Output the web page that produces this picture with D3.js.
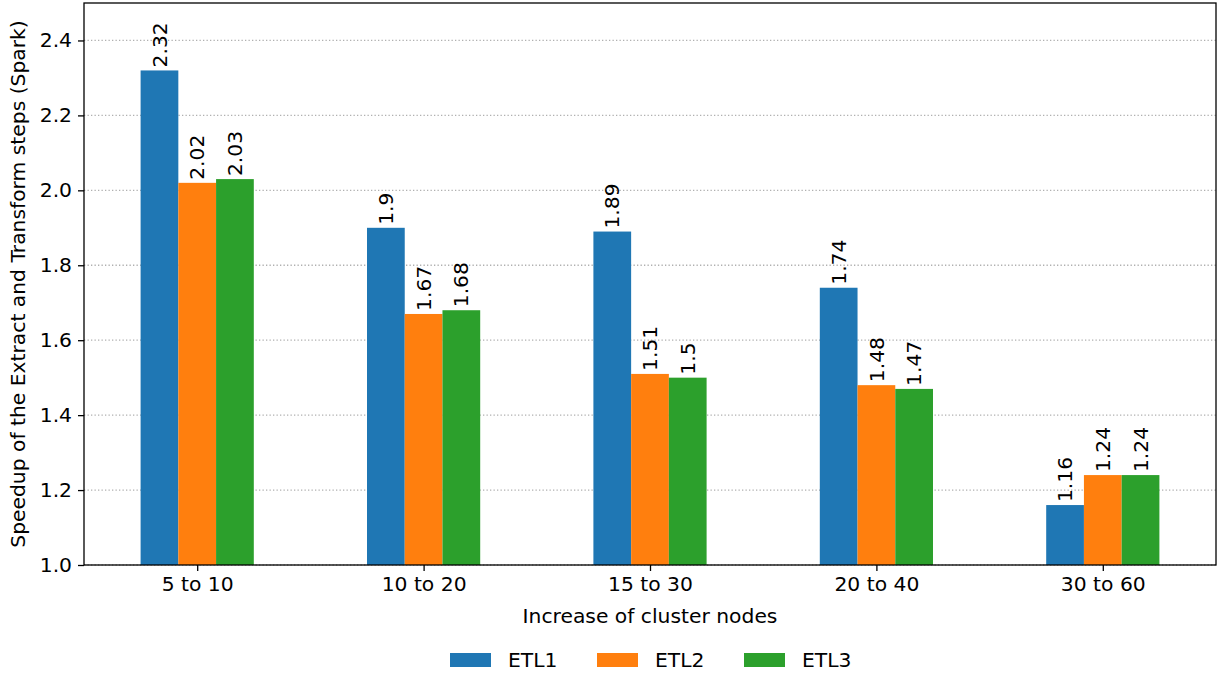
<!DOCTYPE html>
<html>
<head>
<meta charset="utf-8">
<script src="https://cdn.jsdelivr.net/npm/d3@7"></script>
<style>
  html, body { margin: 0; padding: 0; background: #fff; }
  svg { display: block; font-family: "DejaVu Sans", sans-serif; }
</style>
</head>
<body>
<svg id="chart" width="1218" height="673"></svg>
<script>
// Speedup per cluster-size increase, three ETL pipelines
const categories = ["5 to 10", "10 to 20", "15 to 30", "20 to 40", "30 to 60"];
const seriesNames = ["ETL1", "ETL2", "ETL3"];
const etl1 = [2.32, 1.9, 1.89, 1.74, 1.16];
const etl2 = [2.02, 1.67, 1.51, 1.48, 1.24];
const etl3 = [2.03, 1.68, 1.5, 1.47, 1.24];
const yTicks = [1.0, 1.2, 1.4, 1.6, 1.8, 2.0, 2.2, 2.4];
const colors = ["#1f77b4", "#ff7f0e", "#2ca02c"];

const seriesValues = [etl1, etl2, etl3];
const fontSize = 20.3;

const svg = d3.select("#chart");
const margin = { left: 84, right: 2, top: 3, bottom: 108 };
const W = 1218, H = 673;
const plotW = W - margin.left - margin.right;
const plotH = H - margin.top - margin.bottom;

const g = svg.append("g").attr("transform", `translate(${margin.left},${margin.top})`);

const x = d3.scaleLinear().domain([-0.5, categories.length - 0.5]).range([0, plotW]);
const y = d3.scaleLinear().domain([1.0, 2.5]).range([plotH, 0]);
const barW = (x(0.5) - x(0)) / seriesNames.length;

// horizontal grid
g.append("g").selectAll("line").data(yTicks).join("line")
  .attr("x1", 0).attr("x2", plotW)
  .attr("y1", d => y(d)).attr("y2", d => y(d))
  .attr("stroke", "#b0b0b0").attr("stroke-width", 1.3)
  .attr("stroke-dasharray", "1.3,2.2");

// bars and value labels
seriesValues.forEach((vals, si) => {
  const offset = (si - (seriesNames.length - 1) / 2) * barW;
  const sg = g.append("g");
  sg.selectAll("rect").data(vals).join("rect")
    .attr("x", (d, i) => x(i) + offset - barW / 2)
    .attr("width", barW)
    .attr("y", d => y(d))
    .attr("height", d => y(1.0) - y(d))
    .attr("fill", colors[si]);
  sg.selectAll("text").data(vals).join("text")
    .attr("transform", (d, i) => `translate(${x(i) + offset},${y(d) - 3}) rotate(-90)`)
    .attr("dy", "0.35em")
    .attr("text-anchor", "start")
    .attr("font-size", fontSize)
    .attr("fill", "#000")
    .text(d => String(d));
});

// axes
const xAxis = d3.axisBottom(x)
  .tickValues(d3.range(categories.length))
  .tickFormat(i => categories[i])
  .tickSize(6).tickPadding(6);
const yAxis = d3.axisLeft(y)
  .tickValues(yTicks)
  .tickFormat(d3.format(".1f"))
  .tickSize(6).tickPadding(6);

const gx = g.append("g").attr("transform", `translate(0,${plotH})`).call(xAxis);
const gy = g.append("g").call(yAxis);
[gx, gy].forEach(ax => {
  ax.select(".domain").remove();
  ax.selectAll("line").attr("stroke", "#000").attr("stroke-width", 1.3);
  ax.selectAll("text").attr("font-size", fontSize).attr("fill", "#000")
    .attr("font-family", "DejaVu Sans, sans-serif");
});

// frame
g.append("rect").attr("x", 0).attr("y", 0).attr("width", plotW).attr("height", plotH)
  .attr("fill", "none").attr("stroke", "#000").attr("stroke-width", 1.3);

// axis titles
svg.append("text")
  .attr("x", margin.left + plotW / 2).attr("y", 623)
  .attr("text-anchor", "middle").attr("font-size", fontSize)
  .text("Increase of cluster nodes");
svg.append("text")
  .attr("transform", `translate(25,${margin.top + plotH / 2}) rotate(-90)`)
  .attr("text-anchor", "middle").attr("font-size", fontSize)
  .text("Speedup of the Extract and Transform steps (Spark)");

// legend
const legendX = [450, 597, 744];
const lg = svg.append("g");
seriesNames.forEach((name, i) => {
  lg.append("rect").attr("x", legendX[i]).attr("y", 653)
    .attr("width", 41).attr("height", 14).attr("fill", colors[i]);
  lg.append("text").attr("x", legendX[i] + 58).attr("y", 667)
    .attr("font-size", fontSize).text(name);
});
</script>
</body>
</html>
